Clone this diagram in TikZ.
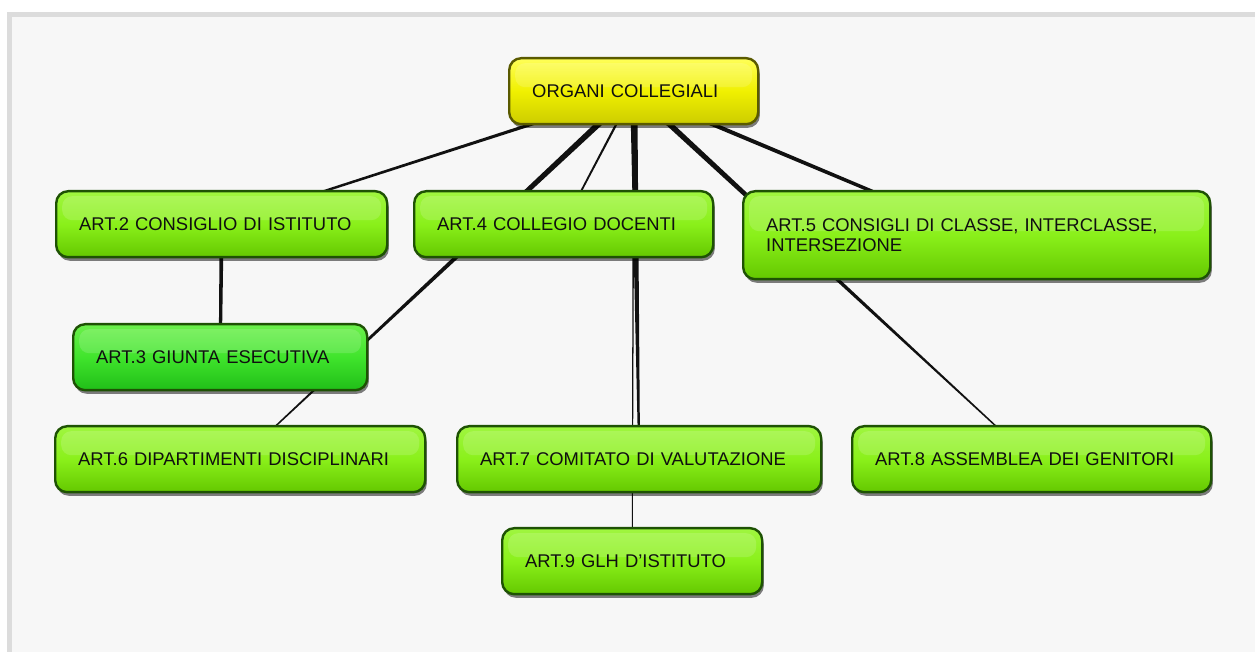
\documentclass[tikz,border=0pt]{standalone}
\usepackage{fontspec}
\setmainfont{Liberation Sans}
\usetikzlibrary{calc}
\usetikzlibrary{shadows}
\usetikzlibrary{positioning}

\definecolor{gtop}{HTML}{A0F640}
\definecolor{gmid}{HTML}{8AF01A}
\definecolor{gbot}{HTML}{64C800}
\definecolor{gline}{HTML}{1E5204}
\definecolor{ttop}{HTML}{6CF04C}
\definecolor{tmid}{HTML}{40E42C}
\definecolor{tbot}{HTML}{20BE18}
\definecolor{ytop}{HTML}{FFFF58}
\definecolor{ymid}{HTML}{F0F000}
\definecolor{ybot}{HTML}{CCCC00}
\definecolor{yline}{HTML}{5A5A00}
\definecolor{txt}{HTML}{101010}
\definecolor{linkcol}{HTML}{111111}
\definecolor{framecol}{HTML}{DCDCDC}
\definecolor{papercol}{HTML}{F7F7F7}

\pgfdeclarelayer{paper}
\pgfdeclarelayer{links}
\pgfsetlayers{paper,links,main}

% tapered connector: from, to, half width at start, half width at end
\newcommand{\cmaplink}[4]{%
  \fill[linkcol] ($(#1)!#3!90:(#2)$) -- ($(#2)!#4!-90:(#1)$)
    -- ($(#2)!#4!90:(#1)$) -- ($(#1)!#3!-90:(#2)$) -- cycle;}

\tikzset{
  concept/.style={draw=gline, line width=1.2pt, rounded corners=6pt,
    minimum height=33pt, inner xsep=11.5pt, inner ysep=0pt, align=left,
    font=\fontsize{9.2}{10}\selectfont, text=txt, anchor=north west,
    drop shadow={shadow xshift=0.8pt, shadow yshift=-1.8pt, opacity=.5, fill=black},
    top color=gtop, bottom color=gbot, middle color=gmid,
    path picture={\fill[white, opacity=.15, rounded corners=5pt]
      ([xshift=3pt,yshift=-2.5pt]path picture bounding box.north west) rectangle
      ([xshift=-3pt,yshift=2pt]path picture bounding box.east);}},
  topic/.style={concept, draw=yline, top color=ytop, bottom color=ybot, middle color=ymid},
  vivid/.style={concept, top color=ttop, bottom color=tbot, middle color=tmid}
}

\begin{document}
\begin{tikzpicture}[x=0.5pt,y=-0.5pt]
        \useasboundingbox (0,0) rectangle (1255,652);
        \begin{pgfonlayer}{paper}
        \fill[white] (0,0) rectangle (1255,652);
        \fill[framecol] (7,12) rectangle (1255,652);
        \fill[papercol] (12,17) rectangle (1255,652);
        \end{pgfonlayer}

        % Nodes
        \node[topic, text width=101.5pt]    (oc) at (508,57)  {ORGANI COLLEGIALI};
        \node[concept, text width=142.5pt]  (a2) at (55,190)  {ART.2 CONSIGLIO DI ISTITUTO};
        \node[concept, text width=126.5pt]  (a4) at (413,190) {ART.4 COLLEGIO DOCENTI};
        \node[concept, text width=210.5pt, minimum height=44pt]
                                            (a5) at (742,190) {ART.5 CONSIGLI DI CLASSE, INTERCLASSE,\\INTERSEZIONE};
        \node[vivid, text width=124pt]      (a3) at (72,323)  {ART.3 GIUNTA ESECUTIVA};
        \node[concept, text width=162pt]    (a6) at (54,425)  {ART.6 DIPARTIMENTI DISCIPLINARI};
        \node[concept, text width=159pt]    (a7) at (456,425) {ART.7 COMITATO DI VALUTAZIONE};
        \node[concept, text width=156.5pt]  (a8) at (851,425) {ART.8 ASSEMBLEA DEI GENITORI};
        \node[concept, text width=107pt]    (a9) at (501,527) {ART.9 GLH D'ISTITUTO};

        % Links
        \begin{pgfonlayer}{links}
        \cmaplink{oc}{a2}{0.9pt}{0.5pt}
        \cmaplink{oc}{a4}{0.6pt}{0.4pt}
        \cmaplink{oc}{a6}{1.6pt}{0.25pt}
        \cmaplink{oc}{a7}{1.8pt}{0.45pt}
        \cmaplink{oc}{a9}{0.4pt}{0.25pt}
        \cmaplink{oc}{a5}{1.1pt}{0.75pt}
        \cmaplink{oc}{a8}{1.5pt}{0.25pt}
        \cmaplink{a2}{a3}{1pt}{0.75pt}
        \end{pgfonlayer}
    \end{tikzpicture}
\end{document}
